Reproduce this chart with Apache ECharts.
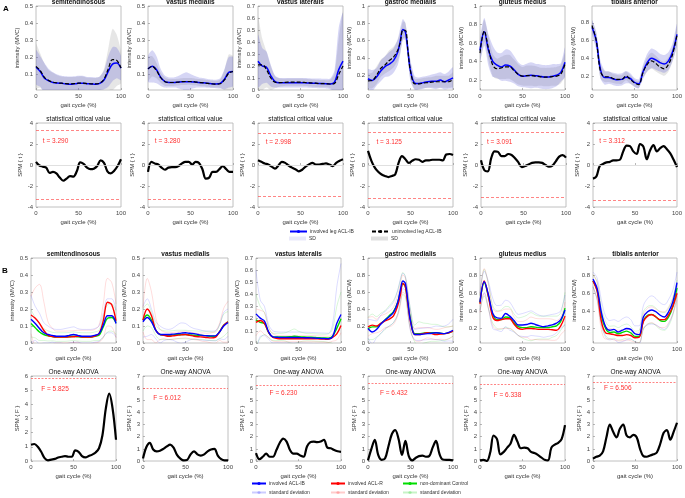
<!DOCTYPE html>
<html><head><meta charset="utf-8">
<script src="https://cdn.jsdelivr.net/npm/echarts@6/dist/echarts.min.js"></script>
<style>html,body{margin:0;padding:0;background:#fff}#c{width:685px;height:498px}</style>
</head><body><div id="c"></div>
<script>
// ---------------- DATA ----------------
const muscles = ['semitendinosous','vastus medialis','vastus lateralis','gastroc medialis','gluteus medius','tibialis anterior'];
const X5 = [0,5,10,15,20,25,30,35,40,45,50,55,60,65,70,75,80,85,90,95,100];
const GX = [0,5,10,15,20,25,30,35,38,41,44,47,50,55,60,65,70,75,80,85,90,95,100];
const X4 = [0,4,8,12,16,20,24,28,32,36,40,44,48,52,56,60,64,68,72,76,80,84,88,92,96,100];

// Panel A: involved (blue) / uninvolved (black dashed) means and SDs
const A_st_inv = [0.14,0.115,0.075,0.06,0.05,0.047,0.045,0.042,0.04,0.042,0.045,0.045,0.043,0.042,0.04,0.045,0.065,0.115,0.158,0.165,0.135];
const A_st_uni = [0.145,0.12,0.08,0.062,0.052,0.048,0.046,0.043,0.042,0.043,0.046,0.046,0.044,0.042,0.042,0.046,0.07,0.13,0.185,0.18,0.135];
const A_st_invSD = [0.1,0.09,0.09,0.07,0.06,0.05,0.045,0.045,0.045,0.045,0.045,0.045,0.04,0.04,0.04,0.04,0.055,0.09,0.1,0.09,0.07];
const A_st_uniSD = [0.13,0.1,0.08,0.06,0.055,0.045,0.04,0.04,0.04,0.04,0.04,0.04,0.035,0.035,0.035,0.04,0.06,0.12,0.18,0.15,0.09];

const A_vm_inv = [0.13,0.145,0.125,0.08,0.055,0.05,0.05,0.052,0.055,0.055,0.055,0.053,0.05,0.048,0.045,0.043,0.042,0.045,0.07,0.11,0.115];
const A_vm_uni = [0.13,0.145,0.12,0.078,0.055,0.05,0.05,0.052,0.055,0.056,0.056,0.054,0.05,0.048,0.045,0.042,0.04,0.043,0.065,0.105,0.115];
const A_vm_invSD = [0.075,0.095,0.08,0.05,0.035,0.03,0.03,0.035,0.045,0.055,0.045,0.035,0.03,0.028,0.026,0.025,0.025,0.03,0.06,0.09,0.085];
const A_vm_uniSD = [0.07,0.06,0.045,0.03,0.025,0.02,0.02,0.02,0.02,0.02,0.02,0.02,0.02,0.02,0.02,0.02,0.02,0.025,0.06,0.11,0.09];

const A_vl_inv = [0.24,0.2,0.19,0.12,0.07,0.06,0.06,0.06,0.06,0.06,0.06,0.06,0.058,0.056,0.055,0.054,0.053,0.05,0.065,0.17,0.24];
const A_vl_uni = [0.21,0.21,0.17,0.1,0.065,0.062,0.063,0.065,0.065,0.065,0.065,0.063,0.06,0.058,0.055,0.053,0.052,0.05,0.055,0.13,0.2];
const A_vl_invSD = [0.22,0.15,0.13,0.09,0.05,0.04,0.04,0.04,0.04,0.04,0.04,0.04,0.04,0.04,0.04,0.04,0.04,0.045,0.1,0.35,0.4];
const A_vl_uniSD = [0.4,0.22,0.15,0.1,0.05,0.035,0.03,0.03,0.03,0.03,0.03,0.03,0.03,0.03,0.03,0.03,0.03,0.035,0.08,0.3,0.45];

const A_gm_inv = [0.16,0.14,0.18,0.25,0.3,0.33,0.37,0.47,0.6,0.73,0.7,0.48,0.25,0.11,0.105,0.115,0.125,0.13,0.13,0.145,0.125,0.145,0.17];
const A_gm_uni = [0.135,0.14,0.2,0.28,0.32,0.37,0.41,0.49,0.58,0.72,0.72,0.48,0.25,0.1,0.1,0.11,0.115,0.12,0.125,0.125,0.125,0.125,0.15];
const A_gm_invSD = [0.11,0.12,0.1,0.12,0.12,0.14,0.14,0.15,0.15,0.12,0.1,0.1,0.12,0.08,0.07,0.07,0.07,0.08,0.09,0.09,0.09,0.1,0.12];
const A_gm_uniSD = [0.08,0.09,0.1,0.1,0.1,0.12,0.12,0.12,0.12,0.1,0.09,0.1,0.1,0.06,0.06,0.06,0.06,0.06,0.07,0.07,0.07,0.07,0.08];

const A_gl_inv = [0.52,0.72,0.52,0.4,0.36,0.34,0.36,0.35,0.31,0.26,0.24,0.245,0.25,0.245,0.24,0.23,0.23,0.24,0.25,0.28,0.39];
const A_gl_uni = [0.49,0.73,0.54,0.36,0.32,0.33,0.34,0.34,0.3,0.26,0.24,0.245,0.245,0.24,0.235,0.23,0.23,0.235,0.24,0.26,0.37];
const A_gl_invSD = [0.12,0.15,0.17,0.17,0.14,0.15,0.17,0.17,0.15,0.13,0.12,0.13,0.14,0.13,0.13,0.13,0.13,0.13,0.12,0.1,0.16];
const A_gl_uniSD = [0.1,0.12,0.13,0.12,0.11,0.12,0.13,0.13,0.12,0.11,0.1,0.11,0.11,0.11,0.1,0.1,0.1,0.1,0.1,0.1,0.12];

const A_ta_inv = [0.75,0.6,0.27,0.18,0.18,0.165,0.155,0.16,0.185,0.17,0.125,0.11,0.245,0.35,0.4,0.38,0.35,0.335,0.37,0.475,0.67];
const A_ta_uni = [0.77,0.6,0.25,0.19,0.19,0.17,0.16,0.16,0.2,0.16,0.12,0.1,0.24,0.33,0.37,0.34,0.3,0.28,0.33,0.45,0.66];
const A_ta_invSD = [0.08,0.1,0.1,0.08,0.07,0.07,0.07,0.07,0.07,0.06,0.05,0.05,0.08,0.1,0.11,0.11,0.1,0.1,0.1,0.1,0.12];
const A_ta_uniSD = [0.06,0.08,0.08,0.06,0.06,0.05,0.05,0.05,0.05,0.05,0.04,0.04,0.06,0.08,0.09,0.09,0.08,0.08,0.08,0.08,0.1];

// Panel A: SPM{t}
const T_st = [0.3,-0.05,-0.15,-0.25,-0.75,-0.65,-0.8,-1.2,-1.5,-1.3,-1.05,-1.1,-0.6,0.25,0.1,-0.25,-0.4,-0.35,-0.1,0.45,0.2,-0.6,-0.8,-0.55,-0.1,0.55];
const T_vm = [-0.65,0.3,0.15,0.05,-0.25,-0.45,-0.25,-0.2,-0.2,-0.1,0.15,0.3,0.3,0.05,0.3,0.2,-0.4,-1.3,-1.2,-0.65,-0.65,-0.4,-0.1,-0.4,-0.65,-0.65];
const T_vl = [0.45,0.3,0.15,0.05,-0.15,-0.35,-0.05,0.3,0.2,-0.05,-0.25,-0.4,-0.6,-0.45,-0.15,0.05,0.2,0.05,0.05,0.1,0.15,0.05,-0.1,0.2,0.4,0.55];
const T_gm = [1.35,0.4,-0.25,-0.65,-0.9,-1.05,-1.15,-1.05,-0.9,0.2,0.85,0.55,0.2,0.4,0.55,0.5,0.3,0.45,0.45,0.5,0.5,0.5,0.45,1.0,1.05,0.95];
const T_gl = [0.45,-0.5,-0.6,0.65,1.3,1.25,0.85,0.85,1.05,0.95,0.65,0.25,-0.2,-0.1,0.05,0.2,0.25,0.25,0.2,0.0,-0.15,-0.05,0.35,0.8,0.95,0.7];
const T_ta = [-1.3,-1.1,-0.1,0.1,0.25,0.3,0.45,0.45,0.5,1.3,1.85,1.8,1.3,1.05,2.0,1.75,0.55,1.4,1.9,1.3,1.6,1.8,1.5,1.1,0.5,-0.2];
const T_crit = [3.290,3.280,2.998,3.125,3.091,3.312];

// Panel B: ACL-IB (blue), ACL-R (red), Control (green) means and SDs
const B_st_ib = [0.14,0.115,0.085,0.06,0.05,0.045,0.04,0.04,0.04,0.045,0.05,0.045,0.04,0.04,0.04,0.045,0.055,0.105,0.16,0.16,0.115];
const B_st_r  = [0.165,0.145,0.115,0.075,0.045,0.038,0.035,0.035,0.035,0.036,0.037,0.04,0.035,0.035,0.035,0.04,0.055,0.13,0.24,0.225,0.13];
const B_st_c  = [0.115,0.09,0.065,0.05,0.042,0.038,0.035,0.035,0.035,0.037,0.04,0.037,0.035,0.035,0.035,0.04,0.045,0.095,0.145,0.15,0.12];
const B_st_ibSD = [0.14,0.1,0.09,0.06,0.05,0.04,0.04,0.04,0.045,0.045,0.045,0.04,0.04,0.04,0.04,0.04,0.045,0.07,0.1,0.1,0.08];
const B_st_rSD  = [0.11,0.18,0.23,0.17,0.08,0.05,0.035,0.035,0.035,0.035,0.035,0.035,0.04,0.04,0.04,0.04,0.05,0.1,0.14,0.13,0.1];
const B_st_cSD  = [0.08,0.06,0.05,0.035,0.03,0.025,0.025,0.025,0.025,0.025,0.025,0.025,0.025,0.025,0.025,0.025,0.03,0.06,0.08,0.08,0.07];

const B_vm_ib = [0.125,0.15,0.125,0.075,0.05,0.05,0.05,0.052,0.055,0.058,0.06,0.057,0.055,0.05,0.045,0.043,0.042,0.042,0.065,0.1,0.12];
const B_vm_r  = [0.135,0.2,0.16,0.075,0.05,0.045,0.04,0.042,0.045,0.048,0.05,0.045,0.04,0.037,0.035,0.032,0.03,0.033,0.065,0.105,0.125];
const B_vm_c  = [0.135,0.165,0.135,0.075,0.05,0.047,0.045,0.047,0.05,0.05,0.05,0.048,0.046,0.045,0.045,0.042,0.04,0.04,0.065,0.105,0.125];
const B_vm_ibSD = [0.09,0.11,0.075,0.05,0.05,0.035,0.03,0.035,0.05,0.06,0.055,0.04,0.03,0.03,0.028,0.028,0.028,0.03,0.04,0.08,0.08];
const B_vm_rSD  = [0.07,0.18,0.14,0.075,0.03,0.02,0.02,0.02,0.02,0.02,0.02,0.02,0.02,0.02,0.025,0.025,0.03,0.035,0.05,0.1,0.12];
const B_vm_cSD  = [0.065,0.065,0.045,0.03,0.03,0.025,0.025,0.025,0.025,0.025,0.025,0.025,0.025,0.025,0.025,0.025,0.025,0.025,0.04,0.065,0.06];

const B_vl_ib = [0.24,0.205,0.18,0.09,0.05,0.047,0.045,0.045,0.045,0.045,0.045,0.044,0.043,0.042,0.04,0.038,0.037,0.035,0.05,0.16,0.235];
const B_vl_r  = [0.17,0.185,0.16,0.085,0.045,0.037,0.035,0.035,0.035,0.035,0.035,0.035,0.035,0.035,0.035,0.033,0.032,0.03,0.045,0.075,0.145];
const B_vl_c  = [0.19,0.17,0.16,0.085,0.05,0.05,0.05,0.05,0.051,0.055,0.052,0.05,0.048,0.047,0.045,0.043,0.042,0.04,0.055,0.12,0.2];
const B_vl_ibSD = [0.36,0.15,0.12,0.06,0.05,0.045,0.045,0.045,0.045,0.045,0.045,0.045,0.045,0.045,0.045,0.045,0.045,0.045,0.1,0.3,0.42];
const B_vl_rSD  = [0.11,0.085,0.09,0.04,0.03,0.025,0.025,0.025,0.025,0.025,0.025,0.025,0.025,0.025,0.025,0.025,0.025,0.025,0.03,0.05,0.06];
const B_vl_cSD  = [0.21,0.13,0.09,0.04,0.03,0.03,0.03,0.035,0.05,0.06,0.045,0.035,0.03,0.03,0.03,0.03,0.03,0.035,0.06,0.18,0.22];

const B_gm_ib = [0.17,0.13,0.16,0.22,0.27,0.31,0.36,0.48,0.62,0.73,0.7,0.48,0.26,0.1,0.1,0.105,0.11,0.115,0.12,0.115,0.11,0.125,0.15];
const B_gm_r  = [0.19,0.21,0.2,0.23,0.26,0.28,0.32,0.44,0.56,0.7,0.66,0.45,0.25,0.1,0.1,0.11,0.12,0.11,0.1,0.105,0.11,0.12,0.14];
const B_gm_c  = [0.17,0.19,0.19,0.23,0.27,0.32,0.37,0.48,0.6,0.7,0.66,0.46,0.28,0.11,0.11,0.115,0.12,0.12,0.12,0.115,0.11,0.12,0.14];
const B_gm_ibSD = [0.11,0.14,0.1,0.11,0.1,0.11,0.12,0.14,0.13,0.09,0.08,0.12,0.12,0.06,0.07,0.07,0.07,0.07,0.08,0.08,0.09,0.1,0.13];
const B_gm_rSD  = [0.11,0.1,0.08,0.09,0.08,0.09,0.1,0.12,0.12,0.1,0.1,0.1,0.1,0.07,0.08,0.07,0.06,0.06,0.06,0.06,0.07,0.07,0.06];
const B_gm_cSD  = [0.13,0.15,0.12,0.12,0.11,0.12,0.13,0.14,0.13,0.13,0.12,0.12,0.12,0.1,0.14,0.12,0.11,0.1,0.1,0.09,0.08,0.07,0.06];

const B_gl_ib = [0.5,0.73,0.58,0.37,0.32,0.315,0.37,0.34,0.29,0.24,0.24,0.245,0.26,0.245,0.23,0.22,0.23,0.24,0.26,0.3,0.41];
const B_gl_r  = [0.48,0.74,0.56,0.33,0.29,0.3,0.31,0.31,0.25,0.2,0.19,0.2,0.2,0.195,0.19,0.19,0.19,0.185,0.18,0.23,0.34];
const B_gl_c  = [0.49,0.72,0.56,0.36,0.3,0.3,0.33,0.32,0.265,0.22,0.21,0.21,0.22,0.215,0.21,0.21,0.21,0.22,0.23,0.28,0.43];
const B_gl_ibSD = [0.1,0.12,0.15,0.17,0.14,0.15,0.15,0.16,0.13,0.12,0.13,0.14,0.14,0.13,0.12,0.12,0.12,0.12,0.11,0.1,0.17];
const B_gl_rSD  = [0.1,0.14,0.14,0.1,0.1,0.1,0.11,0.11,0.08,0.08,0.09,0.1,0.13,0.12,0.12,0.12,0.12,0.12,0.11,0.1,0.16];
const B_gl_cSD  = [0.08,0.15,0.14,0.1,0.1,0.11,0.12,0.12,0.1,0.1,0.12,0.14,0.16,0.14,0.13,0.13,0.13,0.12,0.11,0.1,0.18];

const B_ta_ib = [0.76,0.65,0.38,0.22,0.18,0.19,0.16,0.18,0.2,0.19,0.14,0.13,0.33,0.39,0.41,0.39,0.35,0.33,0.39,0.5,0.72];
const B_ta_r  = [0.74,0.62,0.28,0.15,0.14,0.13,0.12,0.12,0.13,0.12,0.095,0.1,0.28,0.34,0.355,0.33,0.3,0.3,0.355,0.45,0.6];
const B_ta_c  = [0.74,0.63,0.34,0.2,0.155,0.16,0.14,0.155,0.17,0.15,0.11,0.11,0.29,0.35,0.36,0.33,0.29,0.28,0.33,0.45,0.66];
const B_ta_ibSD = [0.08,0.12,0.14,0.12,0.11,0.11,0.12,0.13,0.13,0.11,0.09,0.1,0.13,0.15,0.16,0.15,0.14,0.14,0.14,0.13,0.12];
const B_ta_rSD  = [0.07,0.1,0.1,0.07,0.06,0.06,0.06,0.06,0.06,0.06,0.05,0.06,0.08,0.09,0.09,0.09,0.09,0.09,0.09,0.09,0.08];
const B_ta_cSD  = [0.07,0.1,0.1,0.08,0.07,0.07,0.07,0.08,0.08,0.07,0.06,0.07,0.1,0.1,0.1,0.1,0.1,0.1,0.1,0.1,0.09];

// Panel B: SPM{F}
const F_st = [1.15,1.2,1.0,0.65,0.2,0.05,0.1,0.15,0.25,0.3,0.35,0.3,0.3,0.75,0.65,0.35,0.25,0.35,0.45,0.6,0.9,1.8,3.7,4.75,3.7,1.5];
const F_vm = [0.2,1.15,1.5,0.95,0.8,0.85,1.0,1.2,1.35,1.1,0.5,0.2,0.05,0.1,0.55,0.8,0.55,0.45,0.55,0.8,0.95,1.0,0.45,0.15,0.05,0.05];
const F_vl = [0.65,0.15,0.35,0.6,0.35,0.35,0.9,1.5,1.85,1.6,0.9,0.6,0.6,0.45,0.35,1.2,1.55,1.6,1.55,1.6,1.75,1.1,1.05,0.9,0.8,0.75];
const F_gm = [0.05,1.0,1.75,0.5,0.1,0.2,1.2,2.2,2.55,1.8,0.5,1.65,0.4,0.05,0.25,0.4,0.45,0.35,0.4,1.1,1.65,0.6,0.12,0.1,0.1,0.05];
const F_gl = [0.05,0.1,0.0,0.7,2.1,1.8,0.55,0.75,1.1,1.45,2.15,1.6,1.05,1.1,1.05,0.75,0.65,0.5,0.3,0.1,0.05,1.1,1.35,1.5,1.8,2.95];
const F_ta = [0.2,0.35,0.45,0.8,1.95,3.0,2.4,1.95,2.65,3.0,2.1,1.95,2.15,1.95,1.0,0.4,0.35,0.45,0.55,0.7,1.4,2.3,2.55,1.75,2.4,3.15];
const F_crit = [5.825,6.012,6.230,6.432,6.338,6.506];

// axis ranges & tick labels
const yA = [
  {min:0.006,max:0.5,ticks:[0.1,0.2,0.3,0.4,0.5]},
  {min:0.006,max:0.5,ticks:[0.1,0.2,0.3,0.4,0.5]},
  {min:0,max:0.7,ticks:[0,0.1,0.2,0.3,0.4,0.5,0.6,0.7]},
  {min:0.03,max:1,ticks:[0.2,0.4,0.6,0.8,1]},
  {min:0.09,max:1,ticks:[0.2,0.4,0.6,0.8,1]},
  {min:0.04,max:0.99,ticks:[0.2,0.4,0.6,0.8]}
];
const yT = {min:-4,max:4,ticks:[-4,-2,0,2,4]};
const yB = [
  {min:0,max:0.5,ticks:[0,0.1,0.2,0.3,0.4,0.5]},
  {min:0,max:0.5,ticks:[0,0.1,0.2,0.3,0.4,0.5]},
  {min:0,max:0.7,ticks:[0,0.1,0.2,0.3,0.4,0.5,0.6,0.7]},
  {min:0,max:1,ticks:[0,0.2,0.4,0.6,0.8,1]},
  {min:0.035,max:1,ticks:[0.2,0.4,0.6,0.8,1]},
  {min:0.035,max:1,ticks:[0.2,0.4,0.6,0.8,1]}
];
const yF = [
  {min:0,max:6,ticks:[0,1,2,3,4,5,6]},
  {min:0,max:7,ticks:[0,1,2,3,4,5,6,7]},
  {min:0,max:7,ticks:[0,1,2,3,4,5,6,7]},
  {min:0,max:7,ticks:[0,1,2,3,4,5,6,7]},
  {min:0,max:7,ticks:[0,1,2,3,4,5,6,7]},
  {min:0,max:7,ticks:[0,1,2,3,4,5,6,7]}
];
const xTicks = [0,50,100];
const tLabelPos = [[8,2.3],[8,2.3],[9,2.2],[10,2.2],[7,2.15],[7.5,2.3]];
const fLabelPos = [[12,5.1],[12,5.15],[16,5.6],[14,5.6],[16,5.45],[13,6.0]];

// ---------------- LAYOUT ----------------
const FONT = '"Liberation Sans", Arial, sans-serif';
const LEFT = [[36,148,258,368,480,592],[36,148,258,368,481,593],[31,143,256,368,480,593],[31,143,256,368,480,593]];
const TOP = [6,123,258,376];
const HGT = [84,84,85,85];
const WID = 85;

const grids=[], xAxes=[], yAxes=[], series=[], graphics=[];
function fmt(v){ return String(+(+v).toFixed(3)); }
function addPanel(row,col,ys,yName){
  const idx = grids.length;
  grids.push({left:LEFT[row][col], top:TOP[row], width:WID, height:HGT[row], show:true,
    borderColor:'#b0b0b0', borderWidth:0.8, backgroundColor:'#fff'});
  xAxes.push({gridIndex:idx, type:'value', min:0, max:100,
    axisLine:{show:false}, splitLine:{show:false},
    axisTick:{inside:true, length:2, customValues:xTicks, lineStyle:{color:'#888',width:0.6}},
    axisLabel:{customValues:xTicks, fontSize:6, color:'#444', margin:3, fontFamily:FONT},
    name:'gait cycle (%)', nameLocation:'middle', nameGap:12,
    nameTextStyle:{fontSize:6, color:'#333', fontFamily:FONT}});
  yAxes.push({gridIndex:idx, type:'value', min:ys.min, max:ys.max,
    axisLine:{show:false}, splitLine:{show:false},
    axisTick:{inside:true, length:2, customValues:ys.ticks, lineStyle:{color:'#888',width:0.6}},
    axisLabel:{customValues:ys.ticks, formatter:fmt, fontSize:6, color:'#444', margin:3, fontFamily:FONT},
    name:yName, nameLocation:'middle', nameGap:8, nameRotate:90,
    nameTextStyle:{fontSize:6, color:'#333', fontFamily:FONT}});
  return idx;
}
function pts(xs,ys){ return xs.map((x,i)=>[x,ys[i]]); }
function addLine(idx,xs,ys,opt){
  series.push(Object.assign({type:'line', xAxisIndex:idx, yAxisIndex:idx, data:pts(xs,ys),
    symbol:'none', smooth:0.35, silent:true, animation:false}, opt));
}
// SD band drawn as a polygon (mean - sd .. mean + sd) through the axis scales
function addBand(idx,xs,m,sd,color,name){
  const rows = xs.map((x,i)=>[x, m[i]-sd[i], m[i]+sd[i]]);
  series.push({type:'custom', name:name, xAxisIndex:idx, yAxisIndex:idx, silent:true, z:1, clip:true,
    animation:false, data:rows, encode:{x:0, y:[1,2]}, itemStyle:{color:color},
    renderItem:function(params, api){
      if(params.dataIndex!==0) return null;
      const top = rows.map(r=>api.coord([r[0],r[2]]));
      const bot = rows.map(r=>api.coord([r[0],r[1]])).reverse();
      return {type:'polygon', shape:{points:top.concat(bot), smooth:0.25}, style:{fill:color}};
    }});
}
function addTitle(row,col,text,bold,y){
  graphics.push({type:'text', x:LEFT[row][col]+WID/2, y:y, silent:true,
    style:{text:text, textAlign:'center', textVerticalAlign:'middle',
      font:(bold?'bold ':'')+'6.5px '+FONT, fill:'#111'}});
}

const BLUE='#0000ff', RED='#ff0000', GREEN='#00dd00';
const BAND_B='rgba(70,70,210,0.22)', BAND_G='rgba(128,128,128,0.2)';
const RED_CRIT='rgba(255,60,60,0.9)';

const A_inv=[A_st_inv,A_vm_inv,A_vl_inv,A_gm_inv,A_gl_inv,A_ta_inv];
const A_uni=[A_st_uni,A_vm_uni,A_vl_uni,A_gm_uni,A_gl_uni,A_ta_uni];
const A_invSD=[A_st_invSD,A_vm_invSD,A_vl_invSD,A_gm_invSD,A_gl_invSD,A_ta_invSD];
const A_uniSD=[A_st_uniSD,A_vm_uniSD,A_vl_uniSD,A_gm_uniSD,A_gl_uniSD,A_ta_uniSD];
const T_all=[T_st,T_vm,T_vl,T_gm,T_gl,T_ta];
const B_ib=[B_st_ib,B_vm_ib,B_vl_ib,B_gm_ib,B_gl_ib,B_ta_ib];
const B_r=[B_st_r,B_vm_r,B_vl_r,B_gm_r,B_gl_r,B_ta_r];
const B_c=[B_st_c,B_vm_c,B_vl_c,B_gm_c,B_gl_c,B_ta_c];
const B_ibSD=[B_st_ibSD,B_vm_ibSD,B_vl_ibSD,B_gm_ibSD,B_gl_ibSD,B_ta_ibSD];
const B_rSD=[B_st_rSD,B_vm_rSD,B_vl_rSD,B_gm_rSD,B_gl_rSD,B_ta_rSD];
const B_cSD=[B_st_cSD,B_vm_cSD,B_vl_cSD,B_gm_cSD,B_gl_cSD,B_ta_cSD];
const F_all=[F_st,F_vm,F_vl,F_gm,F_gl,F_ta];
const unitA=['intensity (MVC)','intensity (MVC)','intensity (MVC)','intensity (MCW)','intensity (MCW)','intensity (MCW)'];

for(let c=0;c<6;c++){
  const xs = (c===3)?GX:X5;
  // Row 1
  let g = addPanel(0,c,yA[c],unitA[c]);
  addTitle(0,c,muscles[c],true,2.5);
  addBand(g,xs,A_uni[c],A_uniSD[c],BAND_G,'SD ');
  addBand(g,xs,A_inv[c],A_invSD[c],BAND_B,'SD');
  addLine(g,xs,A_inv[c],{name:'involved leg ACL-IB', lineStyle:{color:BLUE,width:1.5}, itemStyle:{color:BLUE}, z:3});
  addLine(g,xs,A_uni[c],{name:'uninvolved leg ACL-IB', lineStyle:{color:'#000',width:1.2,type:[4,2]}, itemStyle:{color:'#000'}, z:4});
  // Row 2
  g = addPanel(1,c,yT,'SPM { t }');
  addTitle(1,c,'statistical critical value',false,119);
  addLine(g,X4,T_all[c],{lineStyle:{color:'#000',width:2.2}, z:4,
    markLine:{silent:true, symbol:'none', animation:false, label:{show:false},
      data:[{yAxis:0, lineStyle:{color:'#d8d8d8',type:'solid',width:0.8}},
            {yAxis:T_crit[c], lineStyle:{color:RED_CRIT,type:[3,2],width:0.7}},
            {yAxis:-T_crit[c], lineStyle:{color:RED_CRIT,type:[3,2],width:0.7}}]},
    markPoint:{silent:true, symbol:'circle', symbolSize:0, animation:false,
      label:{show:true, position:'right', distance:0, formatter:'t = '+T_crit[c].toFixed(3), color:'#ff3030', fontSize:6.5, fontFamily:FONT},
      data:[{coord:tLabelPos[c]}]}});
  // Row 3
  g = addPanel(2,c,yB[c],unitA[c]);
  addTitle(2,c,muscles[c],true,254);
  const sdSets=[[B_c[c],B_cSD[c],'rgba(0,200,0,0.22)','standard deviation  '],
                [B_r[c],B_rSD[c],'rgba(255,0,0,0.2)','standard deviation '],
                [B_ib[c],B_ibSD[c],'rgba(0,0,255,0.2)','standard deviation']];
  sdSets.forEach(s=>{
    addLine(g,xs,s[0].map((v,i)=>v+s[1][i]),{name:s[3], lineStyle:{color:s[2],width:0.7}, itemStyle:{color:s[2]}, z:2});
    addLine(g,xs,s[0].map((v,i)=>v-s[1][i]),{name:s[3], lineStyle:{color:s[2],width:0.7}, itemStyle:{color:s[2]}, z:2});
  });
  addLine(g,xs,B_c[c],{name:'non-dominant Control', lineStyle:{color:GREEN,width:1.4}, itemStyle:{color:GREEN}, z:3});
  addLine(g,xs,B_r[c],{name:'involved ACL-R', lineStyle:{color:RED,width:1.4}, itemStyle:{color:RED}, z:3});
  addLine(g,xs,B_ib[c],{name:'involved ACL-IB', lineStyle:{color:BLUE,width:1.4}, itemStyle:{color:BLUE}, z:4});
  // Row 4
  g = addPanel(3,c,yF[c],'SPM { F }');
  addTitle(3,c,'One-way ANOVA',false,372);
  addLine(g,X4,F_all[c],{lineStyle:{color:'#000',width:2.2}, z:4,
    markLine:{silent:true, symbol:'none', animation:false, label:{show:false},
      data:[{yAxis:F_crit[c], lineStyle:{color:RED_CRIT,type:[2,1.5],width:0.7}}]},
    markPoint:{silent:true, symbol:'circle', symbolSize:0, animation:false,
      label:{show:true, position:'right', distance:0, formatter:'F = '+F_crit[c].toFixed(3), color:'#ff3030', fontSize:6.5, fontFamily:FONT},
      data:[{coord:fLabelPos[c]}]}});
}

graphics.push({type:'text', x:3, y:9, style:{text:'A', font:'bold 8px '+FONT, fill:'#000', textVerticalAlign:'middle'}});
graphics.push({type:'text', x:2, y:271, style:{text:'B', font:'bold 8px '+FONT, fill:'#000', textVerticalAlign:'middle'}});

function leg(left,top,item,w){
  return {left:left, top:top, orient:'horizontal', selectedMode:false, itemWidth:w, itemHeight:4, itemGap:2,
    padding:0, data:[item], formatter:n=>n.trim(),
    textStyle:{fontSize:5, color:'#333', fontFamily:FONT, padding:[0,0,0,-2]}};
}
const legends = [
  leg(289,229,{name:'involved leg ACL-IB'},17),
  leg(371,229,{name:'uninvolved leg ACL-IB'},17),
  leg(289,236,{name:'SD', icon:'rect', itemStyle:{color:'rgba(70,70,210,0.12)'}},17),
  leg(371,236,{name:'SD ', icon:'rect', itemStyle:{color:'rgba(128,128,128,0.25)'}},17),
  leg(251,481,{name:'involved ACL-IB'},14),
  leg(330,481,{name:'involved ACL-R'},14),
  leg(402,481,{name:'non-dominant Control'},14),
  leg(251,490,{name:'standard deviation'},14),
  leg(330,490,{name:'standard deviation '},14),
  leg(402,490,{name:'standard deviation  '},14)
];

const chart = echarts.init(document.getElementById('c'), null, {renderer:'canvas'});
chart.setOption({
  animation:false, backgroundColor:'#fff',
  textStyle:{fontFamily:FONT},
  grid:grids, xAxis:xAxes, yAxis:yAxes, series:series, legend:legends, graphic:graphics
});
</script></body></html>
